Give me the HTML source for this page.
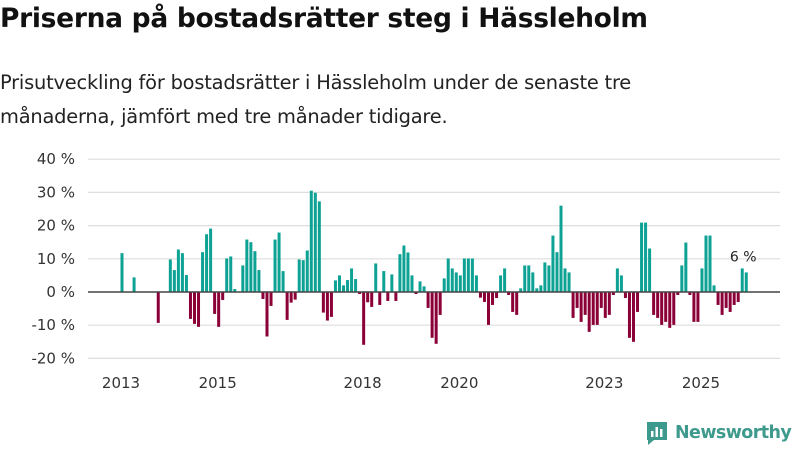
<!DOCTYPE html>
<html><head><meta charset="utf-8">
<style>
body{margin:0;width:800px;height:450px;background:#fff;font-family:"Liberation Sans","DejaVu Sans",sans-serif;overflow:hidden;position:relative}
#title{position:absolute;left:0;top:3px;font-size:26.5px;font-weight:bold;color:#111;font-family:"DejaVu Sans",sans-serif;letter-spacing:-0.3px}
#sub{position:absolute;left:0;top:66px;font-size:19.4px;line-height:34px;color:#222;font-family:"DejaVu Sans",sans-serif;letter-spacing:-0.2px}
svg{position:absolute;left:0;top:0}
</style></head><body>
<div id="title">Priserna på bostadsrätter steg i Hässleholm</div>
<div id="sub">Prisutveckling för bostadsrätter i Hässleholm under de senaste tre<br>månaderna, jämfört med tre månader tidigare.</div>
<svg id="chart" width="800" height="450"></svg>
<script>
const startYear = 2013;
const values = [11.7,null,null,4.4,null,null,null,null,null,-9.3,null,null,9.8,6.6,12.8,11.7,5.1,-8.1,-9.6,-10.5,12,17.4,19.1,-6.6,-10.5,-2.4,10.1,10.7,0.9,null,8,15.8,15,12.3,6.6,-2.1,-13.4,-4.2,15.8,17.9,6.3,-8.4,-3.2,-2.3,9.8,9.6,12.5,30.5,29.9,27.3,-6.2,-8.6,-7.5,3.5,5,2,3.6,7.1,3.9,-0.6,-15.9,-3.1,-4.5,8.6,-3.9,6.3,-2.7,5.3,-2.7,11.4,14,11.9,5,-0.6,3.2,1.7,-4.8,-13.8,-15.6,-6.9,4.1,10.1,7.1,5.9,5,10.1,10.1,10.1,5,-1.7,-3,-9.9,-3.9,-1.8,5,7.1,-0.9,-6,-6.9,1.1,8,8,5.9,1.1,2,8.9,8,17,12,26,7.1,5.9,-7.8,-4.8,-9,-6.9,-12,-9.9,-9.9,-4.8,-7.8,-6.9,-0.9,7.1,5,-1.8,-13.8,-15,-6,20.9,20.9,13.1,-6.9,-7.8,-9.9,-9,-10.8,-9.9,-0.9,8,14.9,-0.9,-9,-9,7.1,17,17,2,-3.9,-6.9,-4.8,-6,-3.9,-3,7.1,5.9];
const yTicks = [40,30,20,10,0,-10,-20];
const xTickYears = [2013,2015,2018,2020,2023,2025];
const lastLabel = "6 %";

const svg = document.getElementById('chart');
const NS = 'http://www.w3.org/2000/svg';
const y = v => 292 - v * 3.32;
const x = t => 121 + (t - startYear) * 48.33;
function mk(tag, attrs){const e=document.createElementNS(NS,tag);for(const k in attrs)e.setAttribute(k,attrs[k]);svg.appendChild(e);return e;}

yTicks.forEach(v=>{
  if(v!==0){const g=mk('line',{x1:88,x2:780,y1:y(v),y2:y(v),stroke:'#dedede','stroke-width':1.2});
  
  }
  const t=mk('text',{x:75,y:y(v)+5,'text-anchor':'end','font-size':15,fill:'#333','font-family':'DejaVu Sans, sans-serif'});
  t.textContent=v+' %';
  
  
});
xTickYears.forEach(yr=>{
  const t=mk('text',{x:x(yr),y:388,'text-anchor':'middle','font-size':15,fill:'#333','font-family':'DejaVu Sans, sans-serif'});
  t.textContent=yr;
  
  
});
values.forEach((v,i)=>{
  if(v===null)return;
  const cx=x(startYear+i/12)+1;
  const r=mk('rect',{x:cx-1.5,width:3,y:v>=0?y(v):y(0),height:Math.abs(y(v)-y(0)),fill:v>=0?'#0ea295':'#8c0038'});
  
  
});
const z=mk('line',{x1:88,x2:780,y1:y(0),y2:y(0),stroke:'#444','stroke-width':1.5});


const li=values.length-1;
const lb=mk('text',{x:x(startYear+li/12)-2,y:y(values[li])-11,'text-anchor':'middle','font-size':14,fill:'#222','font-family':'DejaVu Sans, sans-serif'});
lb.textContent=lastLabel;


</script>
<div style="position:absolute;left:645px;top:420px;display:flex;align-items:center">
<svg width="24" height="26" viewBox="0 0 24 26" style="position:static"><path d="M2 2h20v18H9l-6 5v-5H2z" fill="#3e9a8c"/><rect x="6" y="11" width="2.5" height="6" fill="#fff"/><rect x="10.5" y="7" width="2.5" height="10" fill="#fff"/><rect x="15" y="9" width="2.5" height="8" fill="#fff"/></svg>
<span style="color:#3e9a8c;font-size:17.5px;font-weight:bold;margin-left:6px;font-family:'DejaVu Sans',sans-serif;letter-spacing:-0.6px">Newsworthy</span></div>
</body></html>
